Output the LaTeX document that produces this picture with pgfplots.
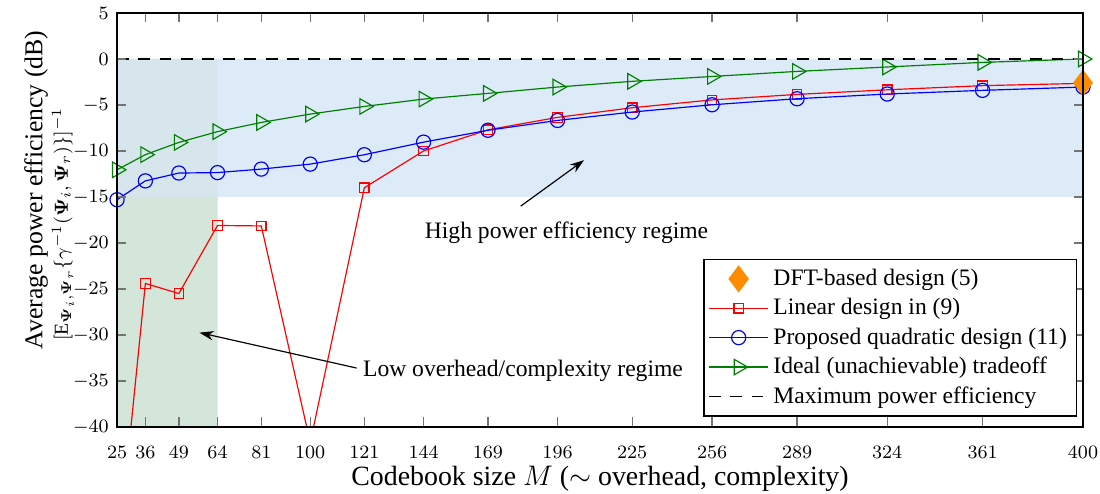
\documentclass[border=0pt]{standalone}
\usepackage{amsmath}
\usepackage{fontspec}
\setmainfont{Liberation Serif}
\usepackage{pgfplots}
\usepackage{pgfplotstable}
\pgfplotsset{compat=1.18}
\usetikzlibrary{arrows.meta}

\definecolor{hiblue}{HTML}{DDEAF8}
\definecolor{logreen}{HTML}{D4E5DA}
\definecolor{mixgb}{HTML}{D6E6EC}
\definecolor{dftorange}{HTML}{FF8C00}
\definecolor{mgreen}{rgb}{0,0.5,0}

% codebook size M and average power efficiency (dB)
\pgfplotstableread{
M    lin     quad    ideal
25   -55.0   -15.30  -12.05
36   -24.4   -13.25  -10.40
49   -25.5   -12.40  -9.07
64   -18.1   -12.35  -7.90
81   -18.15  -11.97  -6.90
100  -41.7   -11.43  -5.99
121  -14.0   -10.41  -5.16
144  -10.0   -9.04   -4.36
169  -7.7    -7.75   -3.74
196  -6.35   -6.68   -3.05
225  -5.3    -5.77   -2.43
256  -4.45   -4.98   -1.90
289  -3.85   -4.32   -1.35
324  -3.35   -3.81   -0.87
361  -2.9    -3.41   -0.37
400  -2.65   -3.05   0.0
}\datatable

\begin{document}
\begin{tikzpicture}
\begin{axis}[
  scale only axis,
  width=409.3pt, height=175.4pt,
  xmin=25, xmax=400, ymin=-40, ymax=5,
  xtick={25,36,49,64,81,100,121,144,169,196,225,256,289,324,361,400},
  ytick={-40,-35,...,5},
  clip mode=individual,
  axis on top,
  axis line style={line width=0.6pt},
  tick style={color=black!55, line width=0.6pt},
  major tick length=4pt,
  tick label style={font=\fontsize{7.6}{9}\selectfont},
  xticklabel style={yshift=-4.5pt},
  xlabel={Codebook size $M$ ($\sim$ overhead, complexity)},
  xlabel style={at={(axis description cs:0.5,-0.126)}, anchor=center,
    font=\fontsize{11.8}{14}\selectfont},
  ylabel={Average power efficiency (dB)},
  ylabel style={at={(axis description cs:-0.0839,0.5725)}, anchor=center,
    font=\fontsize{10.9}{13}\selectfont},
  legend image code/.code={\draw[mark repeat=2,mark phase=2]
    plot coordinates {(0pt,0pt)(12.5pt,0pt)(25pt,0pt)};},
  legend style={at={(0.9938,0.0242)}, anchor=south east, draw=black,
    line width=0.6pt, fill=white, font=\fontsize{10}{12}\selectfont,
    inner sep=2pt},
  legend cell align=left,
]
% shaded regimes
\addplot[fill=hiblue, draw=none, forget plot]
  coordinates {(25,-15) (400,-15) (400,0) (25,0) (25,-15)};
\addplot[fill=logreen, draw=none, forget plot]
  coordinates {(25,-40) (64,-40) (64,-15) (25,-15) (25,-40)};
\addplot[fill=mixgb, draw=none, forget plot]
  coordinates {(25,-15) (64,-15) (64,0) (25,0) (25,-15)};

\addlegendimage{only marks, mark=diamond*, mark size=5.3pt,
  color=dftorange, fill=dftorange,
  legend image code/.code={\draw plot coordinates {(12.5pt,0pt)};}}
\addlegendentry{DFT-based design (5)}

% linear design: line through all points, marks only where inside the axis
\addplot[red, line width=0.5pt, mark=none,
  legend image code/.code={\draw plot coordinates {(0pt,0pt)(25pt,0pt)};
    \draw[mark=square, mark size=2pt] plot coordinates {(12.5pt,0pt)};}]
  table[x=M, y=lin] {\datatable};
\addlegendentry{Linear design in (9)}
\addplot[red, line width=0.5pt, only marks, mark=square, mark size=2pt,
  forget plot, unbounded coords=discard,
  y filter/.expression={y<-40 ? nan : y}]
  table[x=M, y=lin] {\datatable};

\addplot[blue, line width=0.5pt, mark=o, mark size=3pt]
  table[x=M, y=quad] {\datatable};
\addlegendentry{Proposed quadratic design (11)}

\addplot[mgreen, line width=0.5pt, mark=triangle, mark size=3.8pt,
  mark options={rotate=-90}]
  table[x=M, y=ideal] {\datatable};
\addlegendentry{Ideal (unachievable) tradeoff}

\addplot[black, line width=0.5pt, dash pattern=on 5pt off 4pt]
  coordinates {(25,0) (400,0)};
\addlegendentry{Maximum power efficiency}

\addplot[only marks, mark=diamond*, mark size=5.3pt, color=dftorange,
  fill=dftorange, forget plot]
  coordinates {(400,-2.6)};

% annotations
\node[font=\fontsize{10}{12}\selectfont] at (axis cs:199.5,-18.9)
  {High power efficiency regime};
\draw[line width=0.5pt, -{Stealth[length=6pt,width=4pt]}]
  (axis cs:181.7,-16.0) -- (axis cs:206.3,-11.0);
\node[font=\fontsize{10}{12}\selectfont] at (axis cs:182.6,-33.9)
  {Low overhead/complexity regime};
\draw[line width=0.5pt, -{Stealth[length=6pt,width=4pt]}]
  (axis cs:118,-33.6) -- (axis cs:57,-29.75);

\node[rotate=90, font=\fontsize{8.4}{10}\selectfont]
  at (axis description cs:-0.0559,0.49)
  {$[\mathrm{E}_{\boldsymbol{\Psi}_i,\boldsymbol{\Psi}_r}\{\gamma^{-1}(\boldsymbol{\Psi}_i,\boldsymbol{\Psi}_r)\}]^{-1}$};
\end{axis}
\pgfresetboundingbox
\path ([shift={(-49.6pt,-28pt)}]current axis.south west)
      rectangle ([shift={(7.2pt,5.5pt)}]current axis.north east);
\end{tikzpicture}
\end{document}
